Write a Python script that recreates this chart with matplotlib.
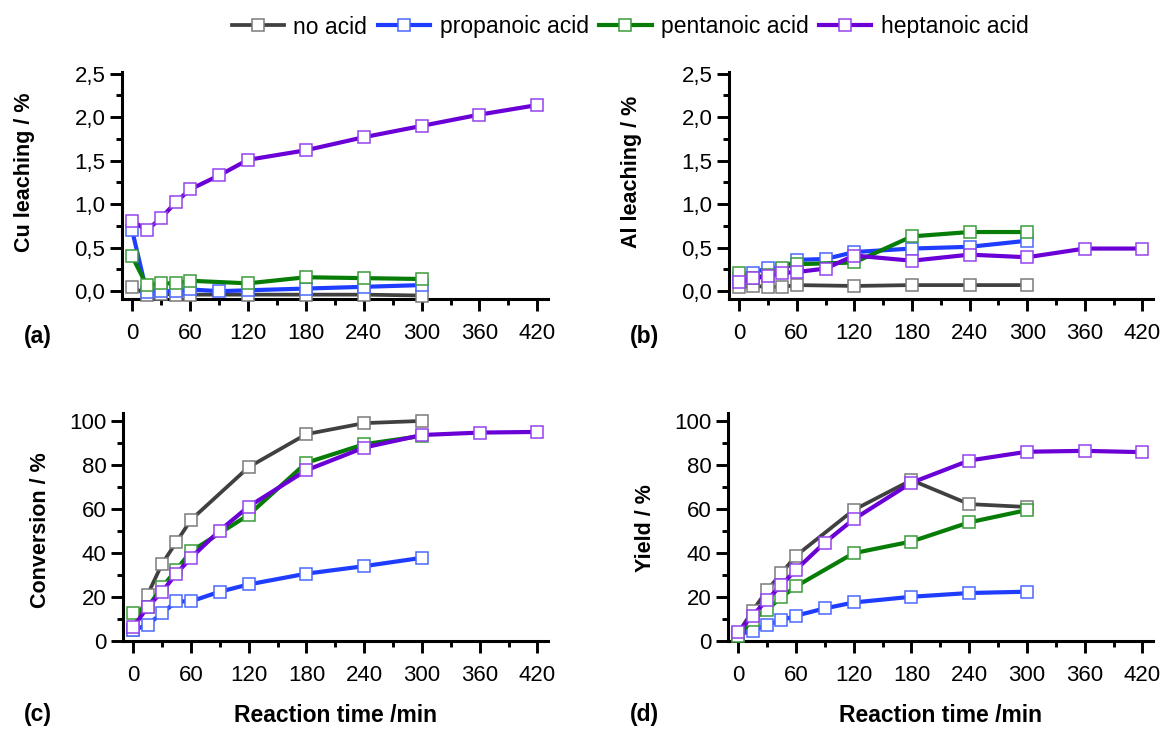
import matplotlib
matplotlib.use("Agg")
import matplotlib.pyplot as plt
from matplotlib.ticker import MultipleLocator, FuncFormatter

plt.rcParams['font.family'] = ['Liberation Sans', 'DejaVu Sans']

# ---------------- data ----------------
t_no = [0, 15, 30, 45, 60, 120, 180, 240, 300]
t_pro = [0, 15, 30, 45, 60, 90, 120, 180, 240, 300]
t_pen = [0, 15, 30, 45, 60, 120, 180, 240, 300]
t_hep = [0, 15, 30, 45, 60, 90, 120, 180, 240, 300, 360, 420]

series_names = ["no acid", "propanoic acid", "pentanoic acid", "heptanoic acid"]

cu_no = [0.05, -0.04, -0.03, -0.04, -0.04, -0.04, -0.04, -0.04, -0.05]
cu_pro = [0.70, -0.01, 0.00, 0.00, 0.02, 0.00, 0.01, 0.03, 0.05, 0.07]
cu_pen = [0.40, 0.07, 0.09, 0.09, 0.12, 0.09, 0.16, 0.15, 0.14]
cu_hep = [0.81, 0.70, 0.84, 1.02, 1.17, 1.33, 1.51, 1.62, 1.77, 1.90, 2.03, 2.14]

al_no = [0.05, 0.06, 0.05, 0.05, 0.07, 0.06, 0.07, 0.07, 0.07]
al_pro = [0.15, 0.21, 0.27, 0.26, 0.36, 0.37, 0.45, 0.49, 0.51, 0.58]
al_pen = [0.21, 0.15, 0.19, 0.27, 0.31, 0.33, 0.63, 0.68, 0.68]
al_hep = [0.10, 0.15, 0.17, 0.21, 0.22, 0.26, 0.41, 0.35, 0.42, 0.39, 0.49, 0.49]

conv_no = [5, 21, 35, 45, 55, 79, 94, 99, 100]
conv_pro = [4.8, 7.4, 12.6, 18, 18, 22.4, 25.7, 30.6, 34, 37.8]
conv_pen = [12.7, 15.4, 24.4, 32.4, 40.7, 57.3, 81, 89.4, 93.2]
conv_hep = [6.2, 15.4, 22.4, 30.6, 37.8, 50.2, 61.1, 77.6, 87.9, 93.6, 94.7, 95]

yield_no = [3.6, 13.7, 23, 30.8, 38.7, 59.5, 73.1, 62.2, 60.9]
yield_pro = [2.9, 4.7, 7.3, 9.4, 11.5, 14.8, 17.5, 20.1, 21.8, 22.4]
yield_pen = [2.1, 9.7, 14.2, 19.9, 24.8, 39.9, 45.2, 53.9, 59.5]
yield_hep = [4.1, 11.5, 18.7, 25.4, 32.3, 44.7, 55.3, 71.9, 82, 86, 86.4, 85.8]

x_ticks = [0, 60, 120, 180, 240, 300, 360, 420]

# ---------------- style ----------------
line_colors = ["#404040", "#1f3dff", "#077d07", "#6a00d6"]
edge_colors = ["#7a7a7a", "#4a68ff", "#3c9c3c", "#9442ee"]
line_widths = [2.7, 3.0, 3.0, 3.0]

fig = plt.figure(figsize=(11.65, 7.31), dpi=100)
W, H = 1165, 731

def axes_px(left, right, top, bottom):
    return fig.add_axes([left / W, 1 - bottom / H, (right - left) / W, (bottom - top) / H])

ax_a = axes_px(122, 548, 72, 299)
ax_b = axes_px(729, 1153, 72, 299)
ax_c = axes_px(123, 548, 413, 641)
ax_d = axes_px(728, 1153, 413, 641)

panels = [
    (ax_a, [cu_no, cu_pro, cu_pen, cu_hep], "Cu leaching / %", (-0.09, 2.52), 0.25, True, (-0.205, 0.56)),
    (ax_b, [al_no, al_pro, al_pen, al_hep], "Al leaching / %", (-0.09, 2.52), 0.25, True, (-0.205, 0.56)),
    (ax_c, [conv_no, conv_pro, conv_pen, conv_hep], "Conversion / %", (0, 103.6), 10, False, (-0.17, 0.487)),
    (ax_d, [yield_no, yield_pro, yield_pen, yield_hep], "Yield / %", (0, 103.6), 10, False, (-0.17, 0.496)),
]
times = [t_no, t_pro, t_pen, t_hep]

handles = []
for ax, ys, ylabel, ylim, mnr, comma, lab_pos in panels:
    hs = []
    for i in range(4):
        h, = ax.plot(times[i], ys[i], color=line_colors[i], lw=line_widths[i],
                     marker="s", ms=8.5, mfc="white", mec=edge_colors[i], mew=1.1,
                     clip_on=False, zorder=3 + i, label=series_names[i])
        hs.append(h)
    handles = hs
    ax.set_xlim(-10.5, 431)
    ax.set_xticks(x_ticks)
    ax.xaxis.set_minor_locator(MultipleLocator(30))
    if comma:
        ax.set_yticks([0, 0.5, 1.0, 1.5, 2.0, 2.5])
        ax.yaxis.set_major_formatter(FuncFormatter(lambda v, p: f"{v:.1f}".replace(".", ",")))
    else:
        ax.set_yticks([0, 20, 40, 60, 80, 100])
    ax.yaxis.set_minor_locator(MultipleLocator(mnr))
    ax.set_ylim(*ylim)
    for s in ["top", "right"]:
        ax.spines[s].set_visible(False)
    for s in ["left", "bottom"]:
        ax.spines[s].set_linewidth(2.2)
    ax.tick_params(axis="both", which="major", direction="out", width=2.1, labelsize=16, color="black")
    ax.tick_params(axis="x", which="major", length=8.5, pad=9)
    ax.tick_params(axis="y", which="major", length=8.5, pad=3.5)
    ax.tick_params(axis="both", which="minor", direction="out", width=2.1, length=4.3)
    ax.set_ylabel(ylabel, fontsize=15.5, fontweight="bold")
    ax.yaxis.set_label_coords(*lab_pos)

for ax in (ax_c, ax_d):
    ax.set_xlabel("Reaction time /min", fontsize=16.5, fontweight="bold", labelpad=13)

for txt, x, y in [("(a)", 24, 337), ("(b)", 630, 337), ("(c)", 24, 714), ("(d)", 630, 714)]:
    fig.text(x / W, 1 - y / H, txt, fontsize=16.5, fontweight="bold", ha="left", va="center")

fig.legend(handles=handles, labels=series_names, loc="center", bbox_to_anchor=(630 / W, 1 - 27 / H),
           ncol=4, frameon=False, fontsize=16.5, handlelength=2.3, handletextpad=0.4,
           columnspacing=0.45, borderaxespad=0)

fig.savefig("out.png", dpi=100)
